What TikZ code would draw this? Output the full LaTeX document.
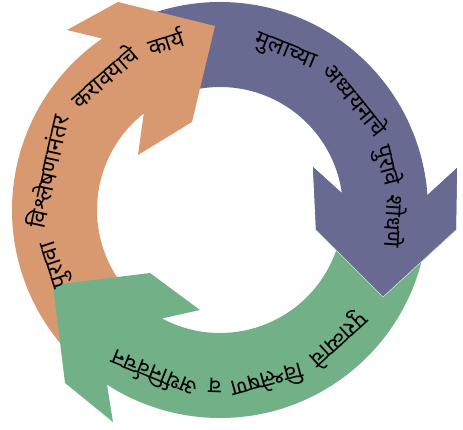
\documentclass[tikz,border=0pt]{standalone}
\usepackage{fontspec}
\newfontfamily\devfont[Script=Devanagari]{Noto Sans}
\usepackage{tikz}

\definecolor{ringblue}{RGB}{104,106,145}
\definecolor{ringorange}{RGB}{216,152,112}
\definecolor{ringgreen}{RGB}{114,177,136}

\newcommand{\ringfont}{\devfont\fontsize{23}{27}\selectfont}
\newlength{\arcwordwd}
\newlength{\arctotwd}

% width of one word, measured outside the picture's own font setup
\newcommand{\measureword}[1]{%
  \pgfinterruptpicture
    \settowidth{\arcwordwd}{\ringfont #1}%
    \global\arcwordwd=\arcwordwd
  \endpgfinterruptpicture}

% words set along a circle, read clockwise, tops outward
\newcommand{\ringtext}[4]{% centre angle, baseline radius, gap, words
  \global\arctotwd=0pt
  \foreach \w in {#4}{\measureword{\w}%
    \global\advance\arctotwd by \arcwordwd
    \global\advance\arctotwd by #3}%
  \global\advance\arctotwd by -#3
  \pgfmathsetmacro{\curang}{#1 + (\arctotwd/2)/#2*180/pi}%
  \global\let\curang\curang
  \foreach \w in {#4}{%
    \measureword{\w}%
    \pgfmathsetmacro{\midang}{\curang - (\arcwordwd/2)/#2*180/pi}%
    \node[ringword, rotate=\midang-90] at (\midang:#2) {\w};
    \pgfmathsetmacro{\nextang}{\curang - (\arcwordwd+#3)/#2*180/pi}%
    \global\let\curang\nextang
  }%
}

\begin{document}
\begin{tikzpicture}[
  x=1pt, y=1pt,
  ringword/.style={font=\ringfont, anchor=base, inner sep=0pt},
  band/.style={draw=none},
  seam/.style={draw=white!65!ringgreen, line width=0.6pt}
]
\useasboundingbox (-220,-220) rectangle (243,210);

% blue arrow: top to right
\fill[band, ringblue] (110:208) arc[start angle=110, end angle=4.1, radius=208]
  -- (237,42) -- (236,-20) -- (163,-87) -- (96,-20) -- (93,43) -- (7.9:123)
  arc[start angle=7.9, end angle=110, radius=123] -- cycle;

% orange arrow: left to top
\fill[band, ringorange] (225:208) arc[start angle=225, end angle=124.5, radius=208]
  -- (-153,180) -- (-102,208) -- (-5,184) -- (-28,88) -- (-82,55) -- (128.3:123)
  arc[start angle=128.3, end angle=225, radius=123] -- cycle;

% green arrow: right to left
\fill[band, ringgreen] (-3:208) arc[start angle=-3, end angle=-122.9, radius=208]
  -- (-107,-212) -- (-155,-173) -- (-167,-75) -- (-70,-63) -- (-20,-100) -- (-118.1:123)
  arc[start angle=-118.1, end angle=-3, radius=123] -- cycle;

% blue head again, over the green tail
\fill[band, ringblue] (4.1:208) -- (237,42) -- (236,-20) -- (163,-87) -- (96,-20)
  -- (93,43) -- (7.9:123) -- cycle;
\draw[seam] (96,-20) -- (163,-87) -- (236,-20);

\ringtext{32.9}{166}{7pt}{मुलाच्या,अध्ययनाचे,पुरावे,शोधणे}
\ringtext{-81.5}{168}{7pt}{पुराव्याचे,विश्लेषण,व,अर्थनिर्वचन}
\ringtext{154}{167}{9pt}{पुरावा,विश्लेषणानंतर,करावयाचे,कार्य}
\end{tikzpicture}
\end{document}
